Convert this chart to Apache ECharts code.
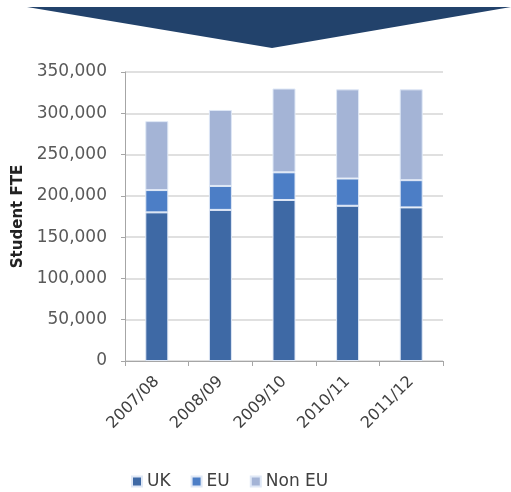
<!DOCTYPE html>
<html>
<head>
<meta charset="utf-8">
<script src="https://cdn.jsdelivr.net/npm/echarts@6/dist/echarts.min.js"></script>
<style>
  html, body { margin: 0; padding: 0; background: #fff; }
  #chart { width: 511px; height: 492px; }
</style>
</head>
<body>
<div id="chart"></div>
<script>
// Student FTE by domicile, academic years 2007/08 - 2011/12
const years = ['2007/08', '2008/09', '2009/10', '2010/11', '2011/12'];
const ukFte = [180000, 183000, 195000, 188000, 186000];
const euFte = [27000, 29000, 33500, 33000, 33000];
const nonEuFte = [83500, 92000, 101500, 108000, 110000];
const seriesNames = ['UK', 'EU', 'Non EU'];
const seriesColors = ['#3e69a5', '#4c7ec6', '#a4b4d6'];

const chart = echarts.init(document.getElementById('chart'), null, { renderer: 'canvas' });

const fmt = v => v.toLocaleString('en-GB');
const stackData = [ukFte, euFte, nonEuFte];

chart.setOption({
  animation: false,
  textStyle: { fontFamily: 'DejaVu Sans' },
  graphic: [{
    type: 'polygon',
    shape: { points: [[27, 7], [511, 7], [272, 48]] },
    style: { fill: '#22426b' },
    z: 10
  }],
  legend: {
    top: 468,
    left: 126,
    itemWidth: 10,
    itemHeight: 10,
    itemGap: 20,
    textStyle: { fontSize: 17, color: '#404040', fontFamily: 'DejaVu Sans' },
    data: seriesNames.map(n => ({ name: n, icon: 'rect' }))
  },
  grid: { left: 125, right: 68, top: 72, bottom: 131 },
  xAxis: {
    type: 'category',
    data: years,
    axisLine: { lineStyle: { color: '#a6a6a6', width: 1 } },
    axisTick: { show: true, length: 5, lineStyle: { color: '#a6a6a6' } },
    axisLabel: { rotate: 45, fontSize: 16, color: '#404040', margin: 18 }
  },
  yAxis: {
    type: 'value',
    min: 0,
    max: 350000,
    interval: 50000,
    name: 'Student FTE',
    nameLocation: 'middle',
    nameGap: 99,
    nameTextStyle: { fontSize: 15, fontWeight: 'bold', color: '#222', fontFamily: 'DejaVu Sans' },
    axisLine: { show: true, lineStyle: { color: '#a6a6a6' } },
    axisTick: { show: true, length: 4, lineStyle: { color: '#a6a6a6' } },
    axisLabel: { formatter: fmt, fontSize: 17, color: '#595959', margin: 18 },
    splitLine: { lineStyle: { color: '#d6d6d6', width: 1.5 } }
  },
  series: seriesNames.map((name, i) => ({
    name,
    type: 'bar',
    stack: 'total',
    barWidth: 23,
    data: stackData[i],
    itemStyle: { color: seriesColors[i], borderColor: '#dfe8f6', borderWidth: 1 }
  }))
});
</script>
</body>
</html>
